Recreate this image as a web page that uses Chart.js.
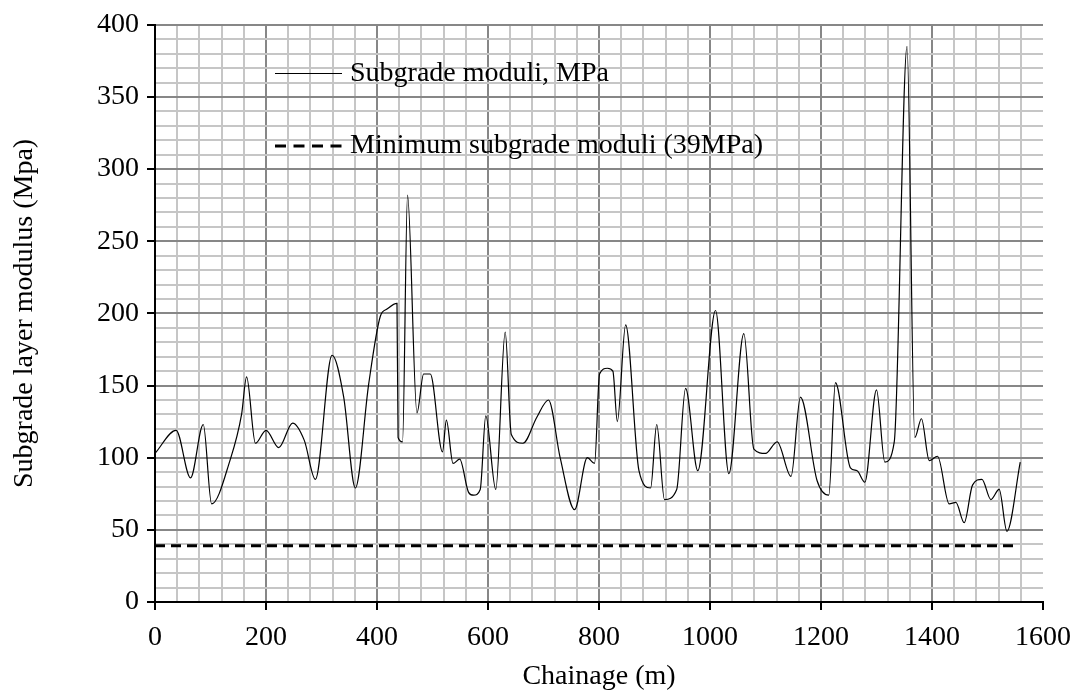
<!DOCTYPE html>
<html>
<head>
<meta charset="utf-8">
<script src="https://cdn.jsdelivr.net/npm/chart.js@4.4.1/dist/chart.umd.min.js"></script>
<style>
  html, body { margin: 0; padding: 0; background: #fff; }
</style>
</head>
<body>
<canvas id="chart" width="1077" height="694"></canvas>
<script>
// chainage (m) and subgrade modulus (MPa)
const chainage = [0, 38, 64, 87, 102, 135, 156, 165, 181, 200, 223, 248, 269, 289, 319, 340, 361, 385, 406, 418,
    436, 438, 446, 455, 472, 484, 496, 518, 525, 537, 549, 565, 574, 586, 596, 614, 631, 642, 663, 688,
    709, 730, 756, 779, 792, 801, 815, 825, 833, 848, 872, 893, 904, 918, 940, 956, 978, 1010, 1034, 1061,
    1079, 1100, 1121, 1146, 1163, 1193, 1214, 1226, 1253, 1265, 1279, 1300, 1315, 1332, 1355, 1369, 1381, 1395, 1410, 1431,
    1443, 1458, 1473, 1490, 1506, 1521, 1535, 1559];
const modulus = [103, 119, 86, 123, 68, 98, 130, 156, 110, 119, 107, 124, 112, 85, 171, 142, 79, 151, 198, 203,
    207, 114, 111, 282, 131, 158, 158, 104, 126, 96, 99, 76, 74, 78, 129, 78, 187, 116, 110, 128,
    140, 100, 64, 100, 96, 158, 162, 160, 125, 192, 91, 79, 123, 71, 78, 148, 91, 202, 89, 186,
    106, 103, 111, 87, 142, 84, 74, 152, 93, 91, 83, 147, 97, 111, 385, 114, 127, 98, 101, 68,
    69, 55, 81, 85, 71, 78, 49, 97];

const minChainage = [0, 1550];
const minModulus = [39, 39];

const xTickLabels = [0, 200, 400, 600, 800, 1000, 1200, 1400, 1600];
const yTickLabels = [0, 50, 100, 150, 200, 250, 300, 350, 400];

const FONT = '"Liberation Serif", "Times New Roman", serif';

function toPoints(xs, ys) {
    return xs.map((x, i) => ({ x: x, y: ys[i] }));
}

function gridColor(major, edge) {
    return ctx => {
        if (!ctx.tick) return 'rgba(0,0,0,0)';
        const v = ctx.tick.value;
        if (v === edge) return 'rgba(0,0,0,0)';
        return v % major === 0 ? '#878787' : '#c6c6c6';
    };
}

function tickColor(major) {
    return ctx => (ctx.tick && ctx.tick.value % major === 0) ? '#000' : 'rgba(0,0,0,0)';
}

// legend sits inside the plot, drawn from the dataset styles
const insideLegend = {
    id: 'insideLegend',
    afterDraw(chart) {
        const c = chart.ctx;
        c.save();
        c.font = '28px ' + FONT;
        c.fillStyle = '#000';
        c.textBaseline = 'middle';
        chart.data.datasets.forEach((ds, i) => {
            const y = 73.5 + i * 72.5;
            c.beginPath();
            c.setLineDash(ds.borderDash ? [11, 7.5] : []);
            c.lineWidth = ds.borderWidth;
            c.strokeStyle = ds.borderColor;
            c.moveTo(275, y);
            c.lineTo(342, y);
            c.stroke();
            c.setLineDash([]);
            c.fillText(ds.label, 350, y);
        });
        c.restore();
    }
};

new Chart(document.getElementById('chart'), {
    type: 'line',
    data: {
        datasets: [{
            label: 'Subgrade moduli, MPa',
            data: toPoints(chainage, modulus),
            borderColor: '#000',
            borderWidth: 1.2,
            pointRadius: 0,
            cubicInterpolationMode: 'monotone'
        }, {
            label: 'Minimum subgrade moduli (39MPa)',
            data: toPoints(minChainage, minModulus),
            borderColor: '#000',
            borderWidth: 3,
            borderDash: [10, 6],
            pointRadius: 0
        }]
    },
    options: {
        responsive: false,
        animation: false,
        devicePixelRatio: 1,
        layout: { padding: { top: 22, right: 34, left: 0, bottom: 0 } },
        plugins: {
            legend: { display: false },
            tooltip: { enabled: false }
        },
        scales: {
            x: {
                type: 'linear',
                min: 0,
                max: 1600,
                afterFit: s => { s.height = 92; s.paddingLeft = 0; s.paddingRight = 0; },
                border: { color: '#000', width: 2 },
                grid: {
                    color: gridColor(200, 1600),
                    lineWidth: 2,
                    tickLength: 8,
                    tickColor: tickColor(200),
                    tickWidth: 2
                },
                ticks: {
                    stepSize: 40,
                    autoSkip: false,
                    maxRotation: 0,
                    padding: 11,
                    color: '#000',
                    font: { family: FONT, size: 28 },
                    callback: v => xTickLabels.includes(v) ? String(v) : ''
                },
                title: {
                    display: true,
                    text: 'Chainage (m)',
                    color: '#000',
                    font: { family: FONT, size: 28 },
                    padding: { top: 0, bottom: 1 }
                }
            },
            y: {
                min: 0,
                max: 400,
                afterFit: s => { s.width = 155; },
                border: { color: '#000', width: 2 },
                grid: {
                    color: gridColor(50, null),
                    lineWidth: 2,
                    tickLength: 8,
                    tickColor: tickColor(50),
                    tickWidth: 2
                },
                ticks: {
                    stepSize: 10,
                    autoSkip: false,
                    padding: 8,
                    color: '#000',
                    font: { family: FONT, size: 28 },
                    callback: v => yTickLabels.includes(v) ? String(v) : ''
                },
                title: {
                    display: true,
                    text: 'Subgrade layer modulus (Mpa)',
                    color: '#000',
                    font: { family: FONT, size: 28 },
                    padding: { top: 8, bottom: 0 }
                }
            }
        }
    },
    plugins: [insideLegend]
});
</script>
</body>
</html>
